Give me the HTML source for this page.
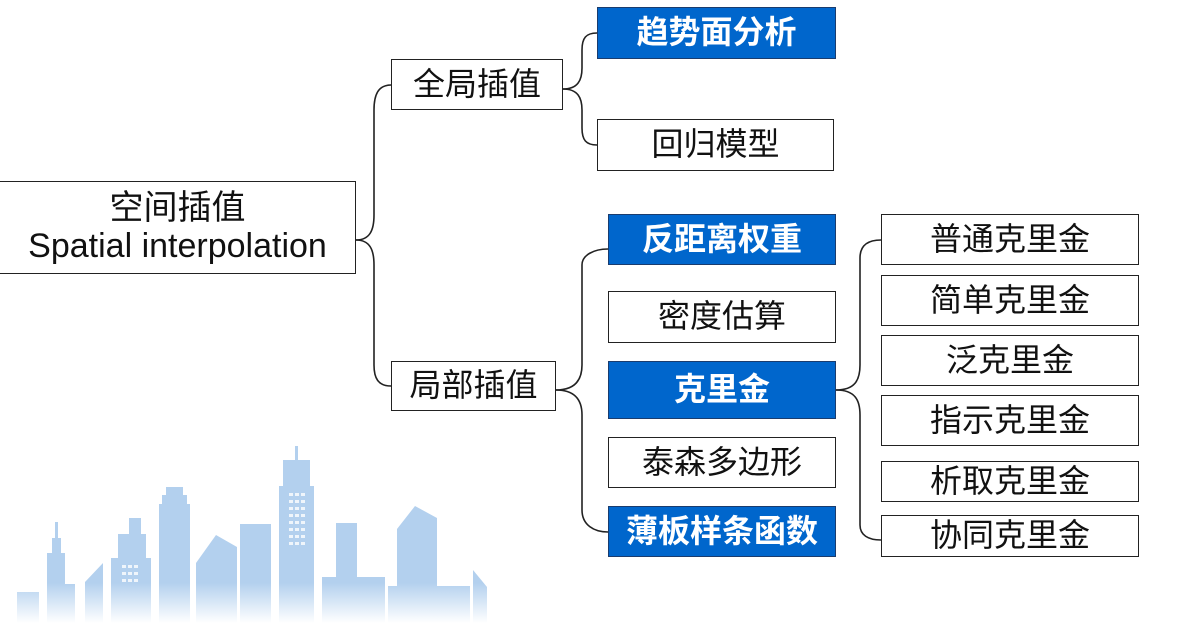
<!DOCTYPE html>
<html><head><meta charset="utf-8"><style>
body{margin:0;width:1189px;height:623px;background:#fff;position:relative;overflow:hidden;font-family:"Liberation Sans","Noto Sans CJK SC",sans-serif}
.b{position:absolute;box-sizing:border-box;border:1.3px solid #222;background:#fff;display:flex;align-items:center;justify-content:center;font-size:32px;color:#111;line-height:1.1;text-align:center}
.bl{background:#0066cc;color:#fff;font-weight:bold;border-color:#1a3c6e}
svg{position:absolute;left:0;top:0}
</style></head><body>
<svg width="1189" height="623">
<defs>
<linearGradient id="g" gradientUnits="userSpaceOnUse" x1="0" y1="440" x2="0" y2="623">
<stop offset="0" stop-color="#b3d0ee"/><stop offset="0.78" stop-color="#b3d0ee"/><stop offset="1" stop-color="#ffffff"/></linearGradient>
</defs>
<g fill="url(#g)">
<rect x="17" y="592" width="22" height="31"/>
<polygon points="55,522 58,522 58,538 61,538 61,553 65,553 65,584 75,584 75,623 47,623 47,553 52,553 52,538 55,538"/>
<polygon points="85,582 103,563 103,623 85,623"/>
<polygon points="129,518 141,518 141,534 146,534 146,558 151,558 151,623 111,623 111,558 118,558 118,534 129,534"/>
<polygon points="166,487 183,487 183,495 187,495 187,504 190,504 190,623 159,623 159,504 162,504 162,495 166,495"/>
<polygon points="196,563 216,535 237,547 237,623 196,623"/>
<rect x="240" y="524" width="31" height="99"/>
<polygon points="295,446 298,446 298,460 310,460 310,486 314,486 314,623 279,623 279,486 283,486 283,460 295,460"/>
<polygon points="336,523 357,523 357,577 385,577 385,623 322,623 322,577 336,577"/>
<polygon points="397,529 415,506 437,518 437,586 470,586 470,623 388,623 388,586 397,586"/>
<polygon points="473,570 487,587 487,623 473,623"/>
</g>
<g fill="#fff" opacity="0.8">
<rect x="289" y="493" width="4" height="3"/><rect x="295" y="493" width="4" height="3"/><rect x="301" y="493" width="4" height="3"/>
<rect x="289" y="500" width="4" height="3"/><rect x="295" y="500" width="4" height="3"/><rect x="301" y="500" width="4" height="3"/>
<rect x="289" y="507" width="4" height="3"/><rect x="295" y="507" width="4" height="3"/><rect x="301" y="507" width="4" height="3"/>
<rect x="289" y="514" width="4" height="3"/><rect x="295" y="514" width="4" height="3"/><rect x="301" y="514" width="4" height="3"/>
<rect x="289" y="521" width="4" height="3"/><rect x="295" y="521" width="4" height="3"/><rect x="301" y="521" width="4" height="3"/>
<rect x="289" y="528" width="4" height="3"/><rect x="295" y="528" width="4" height="3"/><rect x="301" y="528" width="4" height="3"/>
<rect x="289" y="535" width="4" height="3"/><rect x="295" y="535" width="4" height="3"/><rect x="301" y="535" width="4" height="3"/>
<rect x="289" y="542" width="4" height="3"/><rect x="295" y="542" width="4" height="3"/><rect x="301" y="542" width="4" height="3"/>
<rect x="122" y="565" width="4" height="3"/><rect x="128" y="565" width="4" height="3"/><rect x="134" y="565" width="4" height="3"/>
<rect x="122" y="572" width="4" height="3"/><rect x="128" y="572" width="4" height="3"/><rect x="134" y="572" width="4" height="3"/>
<rect x="122" y="579" width="4" height="3"/><rect x="128" y="579" width="4" height="3"/><rect x="134" y="579" width="4" height="3"/>
</g>
<g fill="none" stroke="#222" stroke-width="1.6">
<path d="M356,240 C370,240 374,230 374,215 L374,110 C374,95 378,85 391,85"/>
<path d="M356,240 C370,240 374,250 374,265 L374,365 C374,378 378,386 391,386"/>
<path d="M563,89 C578,89 582,80 582,68 L582,50 C582,38 586,33 597,33"/>
<path d="M563,89 C578,89 582,98 582,110 L582,128 C582,140 586,145 597,145"/>
<path d="M556,390 C575,390 582,380 582,365 L582,265 C582,255 594,249 608,249"/>
<path d="M556,390 C575,390 582,400 582,415 L582,510 C582,525 594,532 608,532"/>
<path d="M836,390 C855,390 860,380 860,365 L860,258 C860,245 868,240 881,240"/>
<path d="M836,390 C855,390 860,400 860,415 L860,525 C860,535 868,540 881,540"/>
</g>
</svg>
<div class="b" style="left:-1px;top:181px;width:357px;height:93px;font-size:34px">空间插值<br>Spatial interpolation</div>
<div class="b" style="left:391px;top:59px;width:172px;height:51px">全局插值</div>
<div class="b" style="left:391px;top:361px;width:165px;height:50px">局部插值</div>
<div class="b bl" style="left:597px;top:7px;width:239px;height:52px">趋势面分析</div>
<div class="b" style="left:597px;top:119px;width:237px;height:52px">回归模型</div>
<div class="b bl" style="left:608px;top:214px;width:228px;height:51px">反距离权重</div>
<div class="b" style="left:608px;top:291px;width:228px;height:52px">密度估算</div>
<div class="b bl" style="left:608px;top:361px;width:228px;height:58px">克里金</div>
<div class="b" style="left:608px;top:437px;width:228px;height:51px">泰森多边形</div>
<div class="b bl" style="left:608px;top:506px;width:228px;height:51px">薄板样条函数</div>
<div class="b" style="left:881px;top:214px;width:258px;height:51px">普通克里金</div>
<div class="b" style="left:881px;top:275px;width:258px;height:51px">简单克里金</div>
<div class="b" style="left:881px;top:335px;width:258px;height:51px">泛克里金</div>
<div class="b" style="left:881px;top:395px;width:258px;height:51px">指示克里金</div>
<div class="b" style="left:881px;top:461px;width:258px;height:41px">析取克里金</div>
<div class="b" style="left:881px;top:515px;width:258px;height:42px">协同克里金</div>
</body></html>
